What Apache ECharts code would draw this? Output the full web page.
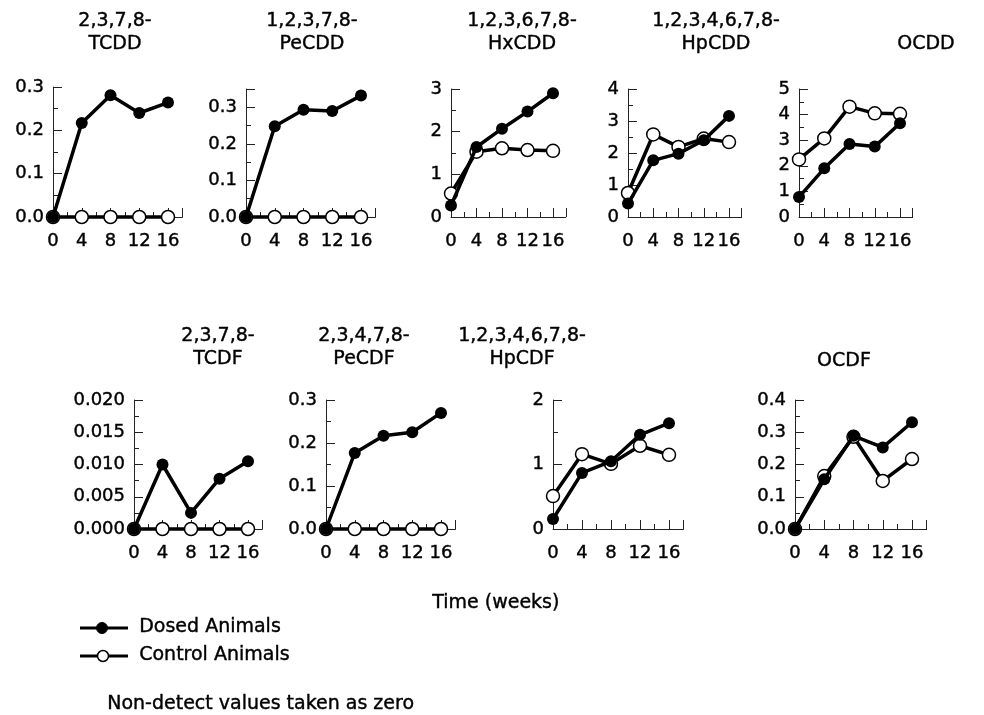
<!DOCTYPE html>
<html>
<head>
<meta charset="utf-8">
<script src="https://cdn.jsdelivr.net/npm/echarts@6/dist/echarts.min.js"></script>
<style>html,body{margin:0;padding:0;background:#fff}#c{width:984px;height:715px}</style>
</head>
<body>
<div id="c"></div>
<script>
const weeks = [0, 4, 8, 12, 16];
const panelTitles = ['2,3,7,8-\nTCDD', '1,2,3,7,8-\nPeCDD', '1,2,3,6,7,8-\nHxCDD', '1,2,3,4,6,7,8-\nHpCDD', 'OCDD',
                     '2,3,7,8-\nTCDF', '2,3,4,7,8-\nPeCDF', '1,2,3,4,6,7,8-\nHpCDF', 'OCDF'];
const dosedTCDD = [0, 0.217, 0.281, 0.240, 0.264];
const controlTCDD = [0, 0, 0, 0, 0];
const dosedPeCDD = [0, 0.248, 0.293, 0.290, 0.332];
const controlPeCDD = [0, 0, 0, 0, 0];
const dosedHxCDD = [0.27, 1.64, 2.07, 2.47, 2.90];
const controlHxCDD = [0.55, 1.53, 1.61, 1.57, 1.55];
const dosedHpCDD = [0.42, 1.77, 1.98, 2.40, 3.16];
const controlHpCDD = [0.75, 2.58, 2.19, 2.45, 2.34];
const dosedOCDD = [0.78, 1.90, 2.85, 2.75, 3.66];
const controlOCDD = [2.25, 3.07, 4.31, 4.05, 4.03];
const dosedTCDF = [0, 0.0100, 0.0025, 0.0078, 0.0105];
const controlTCDF = [0, 0, 0, 0, 0];
const dosedPeCDF = [0, 0.177, 0.217, 0.225, 0.270];
const controlPeCDF = [0, 0, 0, 0, 0];
const dosedHpCDF = [0.155, 0.87, 1.05, 1.46, 1.64];
const controlHpCDF = [0.51, 1.16, 1.01, 1.29, 1.15];
const dosedOCDF = [0, 0.154, 0.289, 0.253, 0.331];
const controlOCDF = [0, 0.164, 0.286, 0.149, 0.217];
const yMax = [0.3, 0.35, 3, 4, 5, 0.020, 0.3, 2, 0.4];
const yStep = [0.1, 0.1, 1, 1, 1, 0.005, 0.1, 1, 0.1];
const yDecimals = [1, 1, 0, 0, 0, 3, 1, 0, 1];
const legendLabels = ['Dosed Animals', 'Control Animals'];
const xAxisName = 'Time (weeks)';
const footnote = 'Non-detect values taken as zero';

const dosedAll = [dosedTCDD, dosedPeCDD, dosedHxCDD, dosedHpCDD, dosedOCDD, dosedTCDF, dosedPeCDF, dosedHpCDF, dosedOCDF];
const controlAll = [controlTCDD, controlPeCDD, controlHxCDD, controlHpCDD, controlOCDD, controlTCDF, controlPeCDF, controlHpCDF, controlOCDF];

// layout (pixels): left = y-axis x, x16 = position of week 16, top, bottom (zero line)
const layout = [
  {l: 53,  x16: 168,   t: 87,  b: 217, tx: 110, ty: 5},
  {l: 246, x16: 361,   t: 89,  b: 217, tx: 307, ty: 5},
  {l: 451, x16: 553,   t: 89,  b: 217, tx: 517, ty: 5},
  {l: 628, x16: 729,   t: 89,  b: 217, tx: 711, ty: 5},
  {l: 799, x16: 900,   t: 89,  b: 217, tx: 921, ty: 28},
  {l: 134, x16: 248,   t: 400, b: 529, tx: 213, ty: 320},
  {l: 326, x16: 441,   t: 400, b: 529, tx: 359, ty: 320},
  {l: 553, x16: 669,   t: 400, b: 529, tx: 517, ty: 320},
  {l: 795, x16: 912,   t: 400, b: 529, tx: 839, ty: 345}
];

const FONT = 'DejaVu Sans';
const TB = {textBorderColor: '#000', textBorderWidth: 0.4};
const grids = [], xAxes = [], yAxes = [], series = [], titles = [];
layout.forEach((p, i) => {
  const w = (p.x16 - p.l) * 18 / 16;
  grids.push({left: p.l, top: p.t, width: w, height: p.b - p.t, containLabel: false});
  titles.push({text: panelTitles[i], left: p.tx, top: p.ty, textAlign: 'center',
    textStyle: Object.assign({fontFamily: FONT, fontSize: 19, fontWeight: 'normal', color: '#000', lineHeight: 23}, TB)});
  xAxes.push({
    type: 'value', gridIndex: i, min: 0, max: 18, interval: 4,
    axisLine: {show: true, onZero: false, lineStyle: {color: '#222', width: 1}},
    axisTick: {show: true, inside: true, length: 9, lineStyle: {color: '#222'}},
    minorTick: {show: true, splitNumber: 2, length: 5, lineStyle: {color: '#222'}},
    splitLine: {show: false},
    axisLabel: Object.assign({margin: 15, color: '#000', fontFamily: FONT, fontSize: 18,
      formatter: v => (v % 4 === 0 && v <= 16) ? String(v) : ''}, TB)
  });
  const dec = yDecimals[i];
  const step = yStep[i];
  yAxes.push({
    type: 'value', gridIndex: i, min: 0, max: yMax[i], interval: step,
    axisLine: {show: true, lineStyle: {color: '#222', width: 1}},
    axisTick: {show: true, inside: true, length: 9, lineStyle: {color: '#222'}},
    minorTick: {show: true, splitNumber: 2, length: 5, lineStyle: {color: '#222'}},
    splitLine: {show: false},
    axisLabel: Object.assign({margin: 9, color: '#000', fontFamily: FONT, fontSize: 18,
      formatter: v => {
        const k = v / step;
        if (Math.abs(k - Math.round(k)) > 1e-6) return '';
        return v.toFixed(dec);
      }}, TB)
  });
  series.push({
    type: 'line', xAxisIndex: i, yAxisIndex: i, clip: false, z: 3,
    data: weeks.map((x, j) => [x, dosedAll[i][j]]),
    symbol: 'circle', symbolSize: 12,
    lineStyle: {color: '#000', width: 3.5},
    itemStyle: {color: '#000'},
    animation: false
  });
  series.push({
    type: 'line', xAxisIndex: i, yAxisIndex: i, clip: false, z: 2,
    data: weeks.map((x, j) => [x, controlAll[i][j]]),
    symbol: 'circle', symbolSize: 13,
    lineStyle: {color: '#000', width: 3.5},
    itemStyle: {color: '#fff', borderColor: '#000', borderWidth: 1.5},
    animation: false
  });
});

const txt = (s) => ({text: s, font: '19px "DejaVu Sans"', fill: '#000', stroke: '#000', lineWidth: 0.4});
const chart = echarts.init(document.getElementById('c'), null, {renderer: 'canvas'});
chart.setOption({
  backgroundColor: '#fff',
  animation: false,
  title: titles,
  grid: grids,
  xAxis: xAxes,
  yAxis: yAxes,
  series: series,
  graphic: [
    {type: 'text', left: 432, top: 593, style: txt(xAxisName)},
    {type: 'line', shape: {x1: 80, y1: 628, x2: 128, y2: 628}, style: {stroke: '#000', lineWidth: 3}},
    {type: 'circle', shape: {cx: 102, cy: 628, r: 5.5}, style: {fill: '#000', stroke: '#000', lineWidth: 1}},
    {type: 'text', left: 139, top: 617, style: txt(legendLabels[0])},
    {type: 'line', shape: {x1: 80, y1: 656, x2: 128, y2: 656}, style: {stroke: '#000', lineWidth: 3}},
    {type: 'circle', shape: {cx: 103, cy: 656, r: 5.5}, style: {fill: '#fff', stroke: '#000', lineWidth: 1.5}},
    {type: 'text', left: 139, top: 645, style: txt(legendLabels[1])},
    {type: 'text', left: 107, top: 694, style: txt(footnote)}
  ]
});
</script>
</body>
</html>
